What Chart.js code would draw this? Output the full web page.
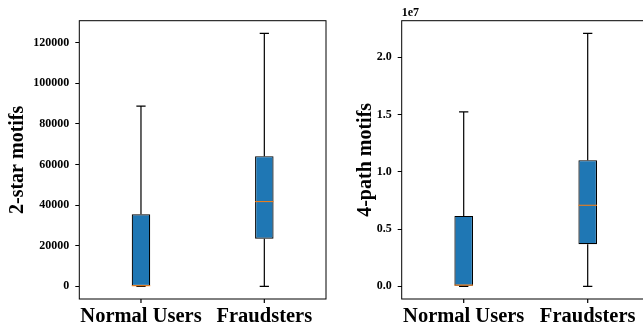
<!DOCTYPE html>
<html>
<head>
<meta charset="utf-8">
<script src="https://cdn.jsdelivr.net/npm/chart.js@4"></script>
<style>
  html, body { margin: 0; padding: 0; background: #fff; overflow: hidden; }
  .wrap { position: absolute; top: 0; }
</style>
</head>
<body>
<div class="wrap" style="left:0"><canvas id="starChart" width="330" height="327"></canvas></div>
<div class="wrap" style="left:330px"><canvas id="pathChart" width="330" height="327"></canvas></div>
<script>
// Data
const categories = ['Normal Users', 'Fraudsters'];

// 2-star motifs box stats
const starMin = [0, 0];
const starQ1 = [0, 23480];
const starMed = [300, 41730];
const starQ3 = [35510, 64120];
const starMax = [88780, 124590];
const starTicks = [0, 20000, 40000, 60000, 80000, 100000, 120000];
const starTickLabels = ['0', '20000', '40000', '60000', '80000', '100000', '120000'];

// 4-path motifs box stats
const pathMin = [0, 0];
const pathQ1 = [0, 3670000];
const pathMed = [110000, 7080000];
const pathQ3 = [6150000, 11020000];
const pathMax = [15240000, 22090000];
const pathTicks = [0, 5000000, 10000000, 15000000, 20000000];
const pathTickLabels = ['0.0', '0.5', '1.0', '1.5', '2.0'];

const FONT = 'Liberation Serif';

// Whiskers, caps, median and full frame
const boxExtras = {
    id: 'boxExtras',
    afterDatasetsDraw(chart, args, o) {
        const { ctx, chartArea, scales } = chart;
        const meta = chart.getDatasetMeta(0);
        ctx.save();
        meta.data.forEach((bar, i) => {
            const x = bar.x;
            const half = bar.width / 2;
            const capHalf = half / 2;
            const y = v => scales.y.getPixelForValue(v);
            ctx.strokeStyle = '#000';
            ctx.lineWidth = 1.2;
            ctx.beginPath();
            ctx.moveTo(x, y(o.q3[i])); ctx.lineTo(x, y(o.max[i]));
            ctx.moveTo(x, y(o.q1[i])); ctx.lineTo(x, y(o.min[i]));
            ctx.moveTo(x - capHalf, y(o.max[i])); ctx.lineTo(x + capHalf, y(o.max[i]));
            ctx.moveTo(x - capHalf, y(o.min[i])); ctx.lineTo(x + capHalf, y(o.min[i]));
            // x tick marks under each box
            ctx.moveTo(x, chartArea.bottom); ctx.lineTo(x, chartArea.bottom + 4);
            ctx.stroke();
            ctx.strokeStyle = '#ff7f0e';
            ctx.lineWidth = 1;
            ctx.beginPath();
            ctx.moveTo(x - half, y(o.med[i])); ctx.lineTo(x + half, y(o.med[i]));
            ctx.stroke();
        });
        ctx.strokeStyle = '#000';
        ctx.lineWidth = 1;
        ctx.strokeRect(chartArea.left, chartArea.top,
            chartArea.right - chartArea.left, chartArea.bottom - chartArea.top);
        if (o.offsetText) {
            ctx.fillStyle = '#000';
            ctx.font = 'bold 12px "' + FONT + '"';
            ctx.textAlign = 'left';
            ctx.textBaseline = 'bottom';
            ctx.fillText(o.offsetText, chartArea.left, chartArea.top - 2);
        }
        ctx.restore();
    }
};

function makeChart(id, stats, ticks, tickLabels, title, yMin, yMax, padLeft, yWidth, offsetText) {
    const ctx = document.getElementById(id).getContext('2d');
    return new Chart(ctx, {
        type: 'bar',
        data: {
            labels: categories,
            datasets: [{
                data: stats.q1.map((v, i) => [v, stats.q3[i]]),
                backgroundColor: '#1f77b4',
                borderColor: '#000',
                borderWidth: 1.2,
                borderSkipped: false,
                barPercentage: 0.15,
                categoryPercentage: 1
            }]
        },
        options: {
            responsive: false,
            animation: false,
            layout: { padding: { left: padLeft, top: 20.7, right: id === 'starChart' ? 4 : 10.3, bottom: 0 } },
            plugins: {
                legend: { display: false },
                tooltip: { enabled: false },
                boxExtras: Object.assign({ offsetText: offsetText }, stats)
            },
            scales: {
                x: {
                    grid: { display: false, drawTicks: true, tickLength: 4 },
                    border: { display: false },
                    ticks: { color: '#000', padding: 1, maxRotation: 0, autoSkip: false,
                        font: { family: FONT, size: 20.5, weight: 'bold' } },
                    afterFit(scale) { scale.height = 28; }
                },
                y: {
                    min: yMin,
                    max: yMax,
                    grid: { drawOnChartArea: false, drawTicks: true, tickLength: 4, color: '#000' },
                    border: { display: false },
                    ticks: {
                        color: '#000', padding: 6,
                        font: { family: FONT, size: 12, weight: 'bold' },
                        callback: (val, idx) => tickLabels[idx]
                    },
                    afterBuildTicks(scale) { scale.ticks = ticks.map(v => ({ value: v })); },
                    afterFit(scale) { scale.width = yWidth; },
                    title: {
                        display: true, text: title, color: '#000',
                        padding: { top: 5.5, bottom: 0 },
                        font: { family: FONT, size: 20, weight: 'bold' }
                    }
                }
            }
        },
        plugins: [boxExtras]
    });
}

makeChart('starChart',
    { min: starMin, q1: starQ1, med: starMed, q3: starQ3, max: starMax },
    starTicks, starTickLabels, '2-star motifs', -6230, 130820, 0, 79.3, null);

makeChart('pathChart',
    { min: pathMin, q1: pathQ1, med: pathMed, q3: pathQ3, max: pathMax },
    pathTicks, pathTickLabels, '4-path motifs', -1104500, 23194500, 18.5, 53.2, '1e7');
</script>
</body>
</html>
